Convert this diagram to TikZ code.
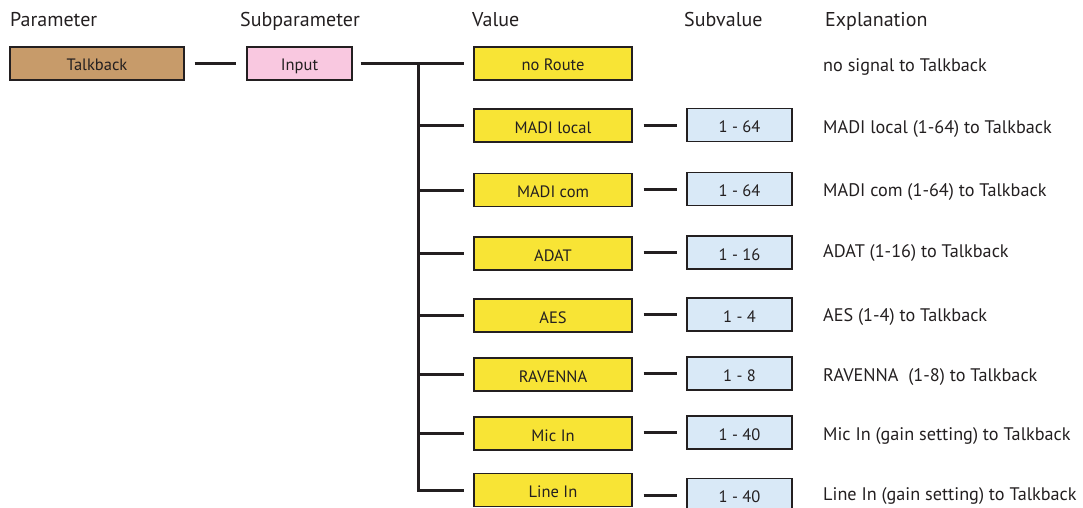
\documentclass[tikz,border=0pt]{standalone}
\usepackage{fontspec}
\setmainfont{PT Sans}
\definecolor{ink}{HTML}{231F20}
\definecolor{tanfill}{HTML}{C79B6A}
\definecolor{pinkfill}{HTML}{F9C8E0}
\definecolor{yellowfill}{HTML}{F8E435}
\definecolor{bluefill}{HTML}{D9E9F7}
\tikzset{
  box/.style={draw=ink, line width=1.3pt, minimum height=33pt, inner sep=0pt,
              text height=15pt, text depth=0pt,
              font=\fontsize{16.5}{19}\selectfont, text=ink},
  parambox/.style={box, fill=tanfill, minimum width=174pt},
  subparambox/.style={box, fill=pinkfill, minimum width=105pt},
  valbox/.style={box, fill=yellowfill, minimum width=158pt},
  subvalbox/.style={box, fill=bluefill, minimum width=105pt},
  header/.style={anchor=base west, inner sep=0pt, font=\fontsize{20}{23}\selectfont, text=ink},
  note/.style={anchor=base west, inner sep=0pt, font=\fontsize{18.2}{21}\selectfont, text=ink},
  conn/.style={draw=ink, line width=3pt, line join=miter},
}
\begin{document}
\begin{tikzpicture}[x=1pt, y=-1pt]
\useasboundingbox (0,0) rectangle (1083,508);

% column headers
\node[header] (hparam)  at (10,27)  {Parameter};
\node[header] (hsub)    at (240,27) {Subparameter};
\node[header] (hval)    at (472,27) {Value};
\node[header] (hsubval) at (684,27) {Subvalue};
\node[header] (hexp)    at (825,27) {Explanation};

% parameter and subparameter
\node[parambox]    (talk)  at (97,63.5)    {Talkback};
\node[subparambox] (input) at (299.5,63.5) {Input};

% values
\node[valbox] (noroute) at (553,63.5)  {no Route};
\node[valbox] (mlocal)  at (553,125.5) {MADI local};
\node[valbox] (mcom)    at (553,190)   {MADI com};
\node[valbox] (adat)    at (553,253.5) {ADAT};
\node[valbox] (aes)     at (553,315.5) {AES};
\node[valbox] (rav)     at (553,374.5) {RAVENNA};
\node[valbox] (mic)     at (553,433.5) {Mic In};
\node[valbox] (line)    at (553,490)   {Line In};

% subvalues
\node[subvalbox] (smlocal) at (739.5,125)   {1 - 64};
\node[subvalbox] (smcom)   at (739.5,189)   {1 - 64};
\node[subvalbox] (sadat)   at (739.5,252.5) {1 - 16};
\node[subvalbox] (saes)    at (739.5,314.5) {1 - 4};
\node[subvalbox] (srav)    at (739.5,373.5) {1 - 8};
\node[subvalbox] (smic)    at (739.5,432.5) {1 - 40};
\node[subvalbox] (sline)   at (739.5,495)   {1 - 40};

% explanations
\node[note] (enoroute) at (823,71.5)  {no signal to Talkback};
\node[note] (emlocal)  at (823,133.5) {MADI local (1-64) to Talkback};
\node[note] (emcom)    at (823,196)   {MADI com (1-64) to Talkback};
\node[note] (eadat)    at (823,257.5) {ADAT (1-16) to Talkback};
\node[note] (eaes)     at (823,321)   {AES (1-4) to Talkback};
\node[note] (erav)     at (823,381.5) {RAVENNA\ \ (1-8) to Talkback};
\node[note] (emic)     at (823,440)   {Mic In (gain setting) to Talkback};
\node[note] (eline)    at (823,500)   {Line In (gain setting) to Talkback};

% trunk of the value tree
\coordinate (trunk) at (418,63.5);

% connectors
\draw[conn, shorten <=10pt, shorten >=10pt] (talk.east) -- (input.west);
\draw[conn, shorten <=8pt, shorten >=9pt] (input.east) -- (noroute.west);
\draw[conn, shorten >=9pt] (trunk) |- (line.west);
\foreach \v in {mlocal,mcom,adat,aes,rav,mic}
  \draw[conn, shorten >=9pt] (trunk |- \v.west) -- (\v.west);
\foreach \v/\s in {mlocal/smlocal,mcom/smcom,adat/sadat,aes/saes,rav/srav,mic/smic,line/sline}
  \draw[conn, shorten <=11pt, shorten >=9pt] (\v.east |- \s.west) -- (\s.west);
\end{tikzpicture}
\end{document}
